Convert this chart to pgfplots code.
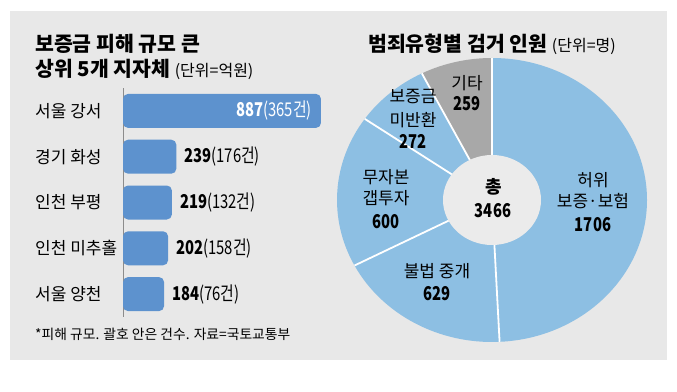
\documentclass[border=0pt]{standalone}
\usepackage{pgfplots}
\pgfplotsset{compat=1.18}
\usepackage{fontspec}
\setmainfont{Noto Sans CJK KR}
\newfontfamily\numfont[FakeStretch=0.78]{Noto Sans CJK KR}
\definecolor{bg}{HTML}{E8E8E8}
\definecolor{barblue}{HTML}{5D92CE}
\definecolor{pieblue}{HTML}{8DBFE3}
\definecolor{piegray}{HTML}{A8A8A8}
\definecolor{innerc}{HTML}{EBEBEB}
\begin{document}
\begin{tikzpicture}
\fill[white] (0pt,0pt) rectangle (677pt,391pt);
\fill[bg] (10pt,31pt) rectangle (667pt,380pt);
% titles
\node[anchor=base west, inner sep=0pt] at (35pt,339pt) {\fontsize{20.5}{24}\selectfont\bfseries 보증금 피해 규모 큰};
\node[anchor=base west, inner sep=0pt] at (35pt,314pt) {\fontsize{20.5}{24}\selectfont{\bfseries 상위 5개 지자체} \fontsize{16}{19}\selectfont(단위=억원)};
\node[anchor=base west, inner sep=0pt] at (368pt,339pt) {\fontsize{20.5}{24}\selectfont{\bfseries 범죄유형별 검거 인원} \fontsize{16}{19}\selectfont(단위=명)};
\node[anchor=base west, inner sep=0pt] at (35pt,52pt) {\fontsize{13.8}{16}\selectfont *피해 규모. 괄호 안은 건수. 자료=국토교통부};
% bar chart
\begin{axis}[at={(123pt,74pt)}, anchor=south west, scale only axis,
  width=223.2pt, height=229pt, xmin=0, xmax=1000, ymin=-0.5, ymax=4.5,
  y dir=reverse, axis x line=none, axis y line=left,
  y axis line style={-, draw=black!45, line width=0.6pt},
  ytick={0,1,2,3,4},
  yticklabels={서울 강서, 경기 화성, 인천 부평, 인천 미추홀, 서울 양천},
  major tick length=0pt,
  yticklabel style={anchor=west, inner sep=0pt, xshift=-88pt, font=\fontsize{17}{20}\selectfont},
  xbar, bar width=34pt, clip=false,
  point meta=explicit symbolic, nodes near coords]
\addplot[fill=barblue, draw=none, rounded corners=5pt, bar shift=0pt,
  every node near coord/.append style={anchor=east, xshift=-9pt, inner sep=0pt, text=white, font=\numfont\fontsize{19}{22}\selectfont}]
  coordinates {(887,0) [{{\bfseries 887}(365건)}]};
\addplot[fill=barblue, draw=none, rounded corners=5pt, bar shift=0pt,
  every node near coord/.append style={anchor=west, xshift=8pt, inner sep=0pt, text=black, font=\numfont\fontsize{19}{22}\selectfont}]
  coordinates {(239,1) [{{\bfseries 239}(176건)}]
               (219,2) [{{\bfseries 219}(132건)}]
               (202,3) [{{\bfseries 202}(158건)}]
               (184,4) [{{\bfseries 184}(76건)}]};
\end{axis}
% donut chart
\def\vA{1706}\def\vB{629}\def\vC{600}\def\vD{272}\def\vE{259}
\pgfmathsetmacro\tot{\vA+\vB+\vC+\vD+\vE}
\pgfmathsetmacro\aA{90}
\pgfmathsetmacro\aB{\aA-\vA/\tot*360}
\pgfmathsetmacro\aC{\aB-\vB/\tot*360}
\pgfmathsetmacro\aD{\aC-\vC/\tot*360}
\pgfmathsetmacro\aE{\aD-\vD/\tot*360}
\pgfmathsetmacro\aF{\aE-\vE/\tot*360}
\begin{axis}[at={(492pt,191pt)}, anchor=center, scale only axis,
  width=310pt, height=284pt, xmin=-1, xmax=1, ymin=-1, ymax=1,
  hide axis, clip=false]
\fill[pieblue] (axis cs:0,0) -- (axis cs:{cos(\aA)},{sin(\aA)}) arc[start angle=\aA, end angle=\aB, x radius=155pt, y radius=142pt] -- cycle;
\fill[pieblue] (axis cs:0,0) -- (axis cs:{cos(\aB)},{sin(\aB)}) arc[start angle=\aB, end angle=\aC, x radius=155pt, y radius=142pt] -- cycle;
\fill[pieblue] (axis cs:0,0) -- (axis cs:{cos(\aC)},{sin(\aC)}) arc[start angle=\aC, end angle=\aD, x radius=155pt, y radius=142pt] -- cycle;
\fill[pieblue] (axis cs:0,0) -- (axis cs:{cos(\aD)},{sin(\aD)}) arc[start angle=\aD, end angle=\aE, x radius=155pt, y radius=142pt] -- cycle;
\fill[piegray] (axis cs:0,0) -- (axis cs:{cos(\aE)},{sin(\aE)}) arc[start angle=\aE, end angle=\aF, x radius=155pt, y radius=142pt] -- cycle;
\draw[white, line width=1.8pt] (axis cs:0,0) -- (axis cs:{cos(\aA)},{sin(\aA)});
\draw[white, line width=1.8pt] (axis cs:0,0) -- (axis cs:{cos(\aB)},{sin(\aB)});
\draw[white, line width=1.8pt] (axis cs:0,0) -- (axis cs:{cos(\aC)},{sin(\aC)});
\draw[white, line width=1.8pt] (axis cs:0,0) -- (axis cs:{cos(\aD)},{sin(\aD)});
\draw[white, line width=1.8pt] (axis cs:0,0) -- (axis cs:{cos(\aE)},{sin(\aE)});
\fill[innerc] (axis cs:0,0) ellipse[x radius=49pt, y radius=45pt];
\end{axis}
% donut labels
\tikzset{pl/.style={anchor=base, inner sep=0pt, font=\fontsize{17}{20}\selectfont},
         pn/.style={anchor=base, inner sep=0pt, font=\numfont\bfseries\fontsize{19}{22}\selectfont}}
\node[pl] at (467pt,301pt) {기타};
\node[pn] at (467pt,280pt) {259};
\node[pl] at (413pt,288pt) {보증금};
\node[pl] at (413pt,264pt) {미반환};
\node[pn] at (413pt,242pt) {272};
\node[pl] at (386pt,207pt) {무자본};
\node[pl] at (386pt,186pt) {갭투자};
\node[pn] at (386pt,162pt) {600};
\node[pl] at (593pt,204pt) {허위};
\node[pl] at (593pt,183pt) {보증·보험};
\node[pn] at (593pt,159pt) {1706};
\node[pl] at (437pt,113pt) {불법 중개};
\node[pn] at (437pt,91pt) {629};
\node[pl, font=\bfseries\fontsize{18}{20}\selectfont] at (494pt,197pt) {총};
\node[pn] at (493pt,173pt) {3466};
\end{tikzpicture}
\end{document}
